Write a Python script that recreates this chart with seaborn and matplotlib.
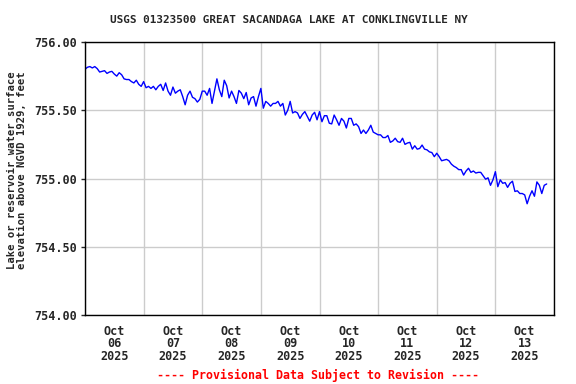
import matplotlib
matplotlib.use("Agg")
import matplotlib.pyplot as plt
import matplotlib.dates as mdates
from matplotlib.ticker import FormatStrFormatter
import seaborn as sns
import pandas as pd

# Hourly lake elevation readings (feet, NGVD 1929), starting Oct 06 2025 00:00
oct06 = [755.80, 755.815, 755.82, 755.81, 755.82, 755.805, 755.78, 755.785, 755.79, 755.77,
         755.78, 755.785, 755.765, 755.75, 755.775, 755.76, 755.73, 755.725, 755.725, 755.71,
         755.70, 755.72, 755.69, 755.675]
oct07 = [755.71, 755.665, 755.675, 755.66, 755.675, 755.65, 755.675, 755.69, 755.645, 755.70,
         755.64, 755.61, 755.67, 755.625, 755.64, 755.65, 755.60, 755.54, 755.61, 755.64,
         755.595, 755.585, 755.56, 755.58]
oct08 = [755.64, 755.64, 755.61, 755.66, 755.55, 755.64, 755.73, 755.65, 755.60, 755.72,
         755.68, 755.59, 755.64, 755.60, 755.55, 755.645, 755.625, 755.585, 755.63, 755.54,
         755.59, 755.60, 755.53, 755.60]
oct09 = [755.66, 755.515, 755.565, 755.55, 755.53, 755.55, 755.55, 755.565, 755.53, 755.55,
         755.465, 755.50, 755.565, 755.48, 755.49, 755.48, 755.44, 755.47, 755.49, 755.455,
         755.42, 755.465, 755.485, 755.43]
oct10 = [755.49, 755.416, 755.46, 755.46, 755.405, 755.40, 755.465, 755.43, 755.39, 755.44,
         755.42, 755.37, 755.44, 755.44, 755.39, 755.40, 755.38, 755.33, 755.355, 755.33,
         755.355, 755.39, 755.34, 755.33]
oct11 = [755.32, 755.32, 755.30, 755.30, 755.315, 755.265, 755.275, 755.295, 755.27, 755.265,
         755.295, 755.25, 755.26, 755.265, 755.215, 755.24, 755.215, 755.22, 755.245, 755.215,
         755.21, 755.195, 755.19, 755.16]
oct12 = [755.185, 755.16, 755.13, 755.135, 755.14, 755.13, 755.105, 755.09, 755.08, 755.065,
         755.065, 755.025, 755.055, 755.075, 755.045, 755.055, 755.04, 755.045, 755.045, 755.02,
         754.995, 755.005, 754.95, 754.99]
oct13 = [755.05, 754.94, 754.99, 754.965, 754.97, 754.935, 754.965, 754.98, 754.905, 754.91,
         754.89, 754.89, 754.88, 754.815, 754.87, 754.91, 754.87, 754.975, 754.95, 754.89,
         754.95, 754.96]

elev = oct06 + oct07 + oct08 + oct09 + oct10 + oct11 + oct12 + oct13
times = pd.date_range("2025-10-06 00:00", periods=len(elev), freq="h")
df = pd.DataFrame({"time": times, "elev": elev})

title = "USGS 01323500 GREAT SACANDAGA LAKE AT CONKLINGVILLE NY"
ylabel = "Lake or reservoir water surface\nelevation above NGVD 1929, feet"
footer = "---- Provisional Data Subject to Revision ----"
y_ticks = [754.0, 754.5, 755.0, 755.5, 756.0]

sns.set_style("ticks")
mono = ["DejaVu Sans Mono"]
plt.rcParams["font.family"] = mono

fig = plt.figure(figsize=(5.76, 3.84), dpi=100)
ax = fig.add_axes([85 / 576, 1 - 315 / 384, (554 - 85) / 576, (315 - 42) / 384])

sns.lineplot(data=df, x="time", y="elev", color="#0000ff", linewidth=1.0, ax=ax)

ax.set_xlim(pd.Timestamp("2025-10-06 00:00"), pd.Timestamp("2025-10-14 00:00"))
ax.set_ylim(754.0, 756.0)
ax.set_yticks(y_ticks)
ax.yaxis.set_major_formatter(FormatStrFormatter("%.2f"))

ax.xaxis.set_major_locator(mdates.HourLocator(byhour=12))
ax.xaxis.set_major_formatter(mdates.DateFormatter("%b\n%d\n%Y"))
ax.xaxis.set_minor_locator(mdates.DayLocator())

ax.grid(False)
ax.grid(which="minor", axis="x", color="#cccccc", linewidth=1.0)
ax.grid(which="major", axis="y", color="#cccccc", linewidth=1.0)
ax.set_axisbelow(True)

ax.tick_params(axis="x", which="major", length=0, pad=7, labelsize=8.5)
ax.tick_params(axis="x", which="minor", length=0)
ax.tick_params(axis="y", which="major", length=3, width=1, pad=3, labelsize=8.5, direction="out")
for lab in ax.get_xticklabels() + ax.get_yticklabels():
    lab.set_fontweight("bold")
    lab.set_linespacing(0.95)

for s in ax.spines.values():
    s.set_color("black")
    s.set_linewidth(1.0)
    s.set_visible(True)

ax.set_xlabel("")
ax.set_ylabel("")

fig.text(0.501, 1 - 20 / 384, title, ha="center", va="center", fontsize=7.9,
         fontweight="bold", family=mono)
fig.text(17 / 576, 1 - 170 / 384, ylabel, ha="center", va="center", rotation=90,
         fontsize=7.6, fontweight="bold", family=mono, multialignment="center",
         linespacing=1.1)
fig.text(318 / 576, 1 - 375 / 384, footer, ha="center", va="center", fontsize=8.4,
         fontweight="bold", color="red", family=mono)

fig.savefig("out.png", dpi=100)
